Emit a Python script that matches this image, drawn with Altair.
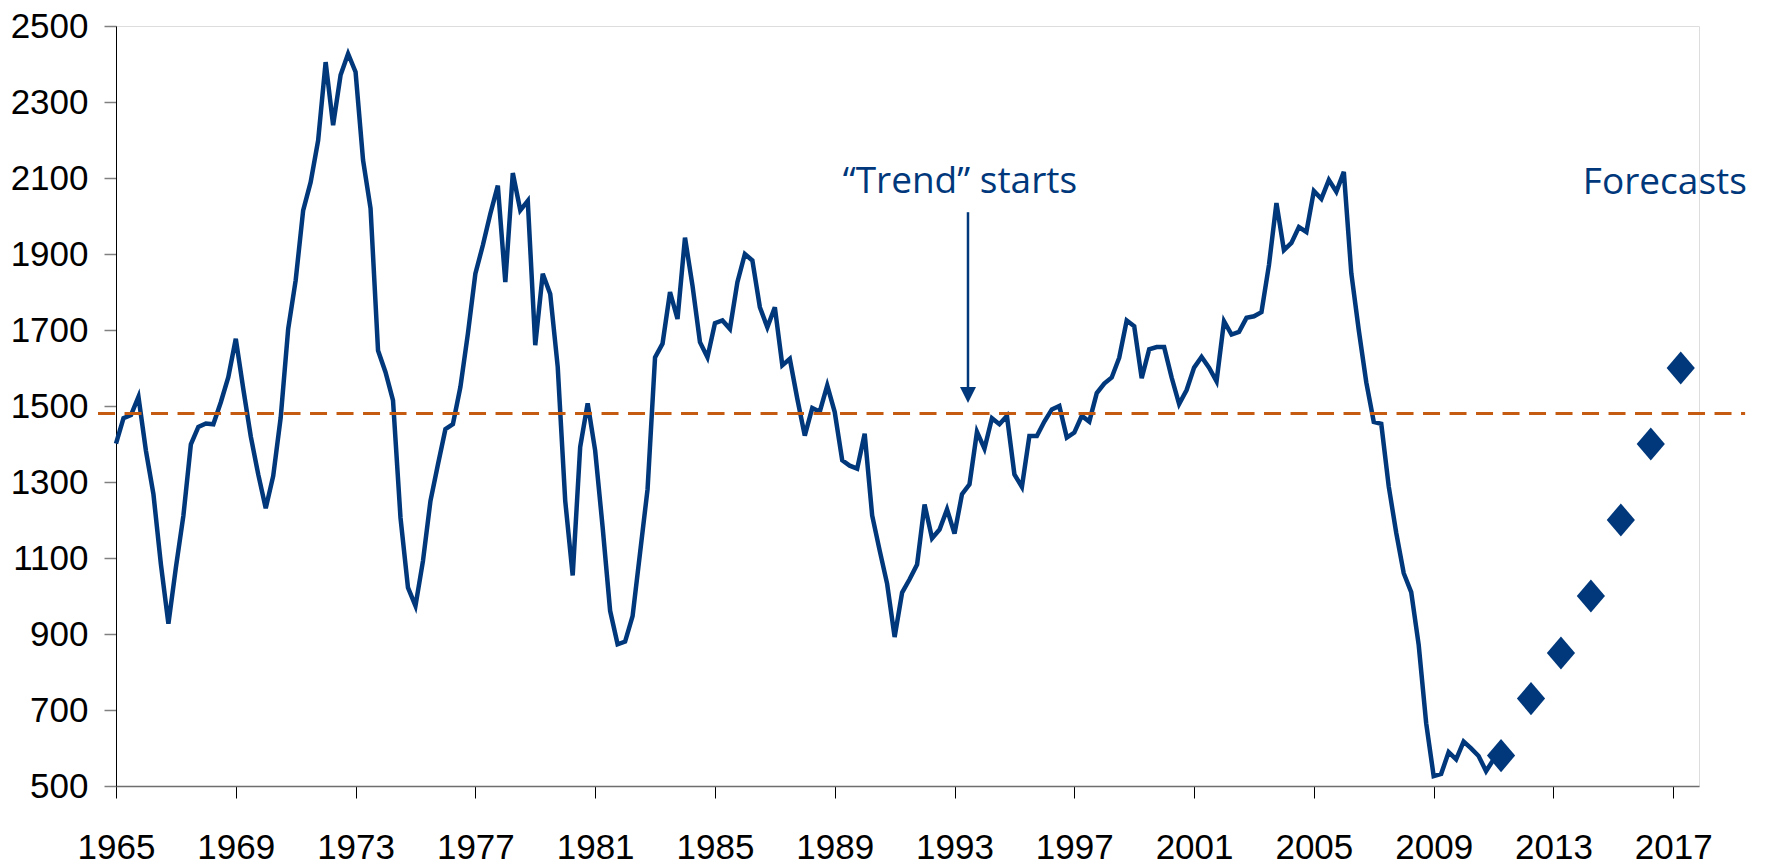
import altair as alt
import pandas as pd

# Quarterly housing starts (thousands), 1965Q1 .. 2011Q1
first_year = 1965
starts = [
    1401, 1468, 1476, 1524,
    1382, 1268, 1083, 927,
    1075, 1211, 1399, 1445,
    1454, 1452, 1510, 1576,
    1677, 1545, 1420, 1320,
    1231, 1316, 1470, 1703,
    1831, 2015, 2089, 2199,
    2405, 2239, 2371, 2427,
    2379, 2147, 2020, 1646,
    1589, 1515, 1206, 1022,
    974, 1092, 1250, 1346,
    1439, 1452, 1550, 1690,
    1848, 1923, 2006, 2080,
    1826, 2113, 2015, 2040,
    1660, 1848, 1795, 1603,
    1251, 1054, 1392, 1507,
    1383, 1181, 961, 873,
    880, 947, 1114, 1281,
    1628, 1664, 1800, 1729,
    1943, 1817, 1668, 1628,
    1718, 1725, 1703, 1826,
    1900, 1883, 1760, 1707,
    1760, 1607, 1624, 1519,
    1422, 1495, 1485, 1554,
    1484, 1357, 1343, 1335,
    1427, 1212, 1120, 1032,
    892, 1009, 1044, 1083,
    1241, 1152, 1175, 1228,
    1164, 1268, 1294, 1432,
    1388, 1468, 1452, 1474,
    1320, 1287, 1421, 1421,
    1459, 1491, 1500, 1417,
    1430, 1474, 1459, 1534,
    1559, 1575, 1627, 1725,
    1710, 1573, 1649, 1655,
    1655, 1575, 1505, 1542,
    1601, 1629, 1601, 1565,
    1723, 1688, 1695, 1732,
    1736, 1747, 1871, 2034,
    1910, 1929, 1971, 1958,
    2066, 2045, 2095, 2064,
    2116, 1849, 1699, 1562,
    1458, 1453, 1288, 1166,
    1060, 1010, 871, 665,
    526, 532, 589, 570,
    617, 599, 579, 539,
    570,
]

forecast_years = [2011, 2012, 2013, 2014, 2015, 2016, 2017]
forecast_values = [580, 730, 850, 1000, 1200, 1400, 1600]
forecast_offset = 0.25

trend_level = 1480
trend_span = [1964.4, 2019.4]

x_ticks = list(range(1965, 2018, 4))
y_ticks = list(range(500, 2501, 200))
x_domain = [1965, 2017.86]
y_domain = [500, 2500]

arrow_x = 1993.45
arrow_top = 2010
arrow_head = 1529

labels = ["\u201cTrend\u201d starts", "Forecasts"]
label_x = [1993.18, 2016.72]
label_y = [2060, 2058]

NAVY = "#00387B"
ORANGE = "#C55A11"
AXIS_FONT = "Liberation Sans Narrow, Arial Narrow, Liberation Sans, Arial, sans-serif"

line_df = pd.DataFrame({
    "t": [first_year + i / 4 for i in range(len(starts))],
    "v": starts,
})
fc_df = pd.DataFrame({
    "t": [y + forecast_offset for y in forecast_years],
    "v": forecast_values,
})
trend_df = pd.DataFrame({"x": [trend_span[0]], "x2": [trend_span[1]], "y": [trend_level]})
arrow_df = pd.DataFrame({"x": [arrow_x], "y": [arrow_top], "y2": [arrow_head + 10]})
head_df = pd.DataFrame({"x": [arrow_x], "y": [arrow_head]})
text_df = pd.DataFrame({"x": label_x, "y": label_y, "label": labels})

xs = alt.Scale(domain=x_domain, nice=False, zero=False)
ys = alt.Scale(domain=y_domain, nice=False, zero=False)

x_axis = alt.Axis(
    values=x_ticks, format="d", title=None, grid=False,
    domainColor="#6E6E6E", domainWidth=1.5,
    tickColor="#000000", tickSize=12, tickWidth=1,
    labelFont=AXIS_FONT,
    labelFontSize=35, labelColor="#000000", labelPadding=32,
    labelFlush=False, labelOverlap=False,
)
y_axis = alt.Axis(
    values=y_ticks, format="d", title=None, grid=False,
    domainColor="#000000", domainWidth=1,
    tickColor="#808080", tickSize=12, tickWidth=1.5,
    labelFont=AXIS_FONT,
    labelFontSize=35, labelColor="#000000", labelPadding=16,
    labelFlush=False, labelOverlap=False,
)

line = alt.Chart(line_df).mark_line(color=NAVY, strokeWidth=4.5, strokeJoin="miter").encode(
    x=alt.X("t:Q", scale=xs, axis=x_axis),
    y=alt.Y("v:Q", scale=ys, axis=y_axis),
)

trend = alt.Chart(trend_df).mark_rule(color=ORANGE, strokeWidth=3, strokeDash=[17, 9.5]).encode(
    x=alt.X("x:Q", scale=xs), x2="x2:Q", y=alt.Y("y:Q", scale=ys)
)

diamonds = alt.Chart(fc_df).mark_point(
    shape="M-0.85,0L0,-1L0.85,0L0,1Z", filled=True, fill=NAVY, stroke=NAVY,
    strokeWidth=0, size=1100, opacity=1,
).encode(x=alt.X("t:Q", scale=xs), y=alt.Y("v:Q", scale=ys))

arrow = alt.Chart(arrow_df).mark_rule(color=NAVY, strokeWidth=2.5).encode(
    x=alt.X("x:Q", scale=xs), y=alt.Y("y:Q", scale=ys), y2="y2:Q"
)
head = alt.Chart(head_df).mark_point(
    shape="M-1,-1L1,-1L0,1Z", filled=True, fill=NAVY, strokeWidth=0, size=256, opacity=1,
).encode(x=alt.X("x:Q", scale=xs), y=alt.Y("y:Q", scale=ys))

texts = alt.Chart(text_df).mark_text(
    font="Open Sans", fontSize=37, fontWeight=500, color=NAVY, align="center", baseline="alphabetic",
).encode(x=alt.X("x:Q", scale=xs), y=alt.Y("y:Q", scale=ys), text="label:N")

chart = alt.layer(line, diamonds, trend, arrow, head, texts).properties(
    width=1583, height=760,
    padding={"left": 108, "top": 18, "right": 60, "bottom": 80},
    autosize=alt.AutoSizeParams(type="none"),
).configure_view(stroke=None).configure(background="#ffffff")

chart.save("out.html", embed_options={"renderer": "svg", "actions": False})
